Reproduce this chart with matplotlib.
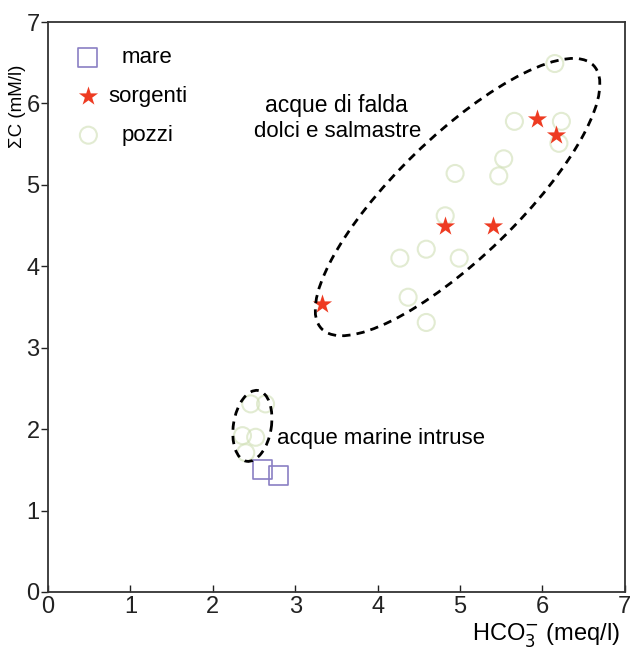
import matplotlib
matplotlib.use("Agg")
import matplotlib.pyplot as plt
from matplotlib.patches import Ellipse

plt.rcParams['font.family'] = ['Liberation Sans', 'DejaVu Sans']

# Seawater samples
mare_x = [2.60, 2.80]
mare_y = [1.50, 1.43]

# Springs
sorgenti_x = [3.32, 4.82, 5.40, 5.94, 6.17]
sorgenti_y = [3.54, 4.50, 4.50, 5.81, 5.61]

# Wells
pozzi_x = [6.15, 5.66, 6.23, 6.20, 5.53, 5.47, 4.94, 4.82, 4.59, 4.27, 4.99, 4.37, 4.59,
           2.46, 2.64, 2.36, 2.52, 2.40]
pozzi_y = [6.49, 5.78, 5.78, 5.51, 5.32, 5.11, 5.14, 4.62, 4.21, 4.10, 4.10, 3.62, 3.31,
           2.31, 2.31, 1.92, 1.90, 1.71]

x_ticks = [0, 1, 2, 3, 4, 5, 6, 7]
y_ticks = [0, 1, 2, 3, 4, 5, 6, 7]

fig = plt.figure(figsize=(6.35, 6.55), dpi=100)
ax = fig.add_axes([0.0756, 0.0962, 0.9084, 0.8702])

sq_col = '#8a7fc4'
star_col = '#ee3b22'
circ_col = '#cfdfb4'

ax.scatter(pozzi_x, pozzi_y, s=150, marker='o', facecolors='none',
           edgecolors=circ_col, linewidths=1.5, alpha=0.6, zorder=2)
ax.scatter(mare_x, mare_y, s=190, marker='s', facecolors='none',
           edgecolors=sq_col, linewidths=1.2, zorder=3)
ax.scatter(sorgenti_x, sorgenti_y, s=210, marker='*', color=star_col,
           linewidths=0, zorder=4)

# Group outlines
ax.add_patch(Ellipse((4.97, 4.85), 4.62, 1.48, angle=44.5, fill=False,
                     ls=(0, (3, 2.2)), lw=2.0, ec='black', zorder=5))
ax.add_patch(Ellipse((2.48, 2.04), 0.88, 0.46, angle=81, fill=False,
                     ls=(0, (3, 2.2)), lw=2.0, ec='black', zorder=5))

ax.text(3.50, 5.98, 'acque di falda', ha='center', va='center', fontsize=16.5)
ax.text(3.52, 5.66, 'dolci e salmastre', ha='center', va='center', fontsize=16)
ax.text(2.78, 1.89, 'acque marine intruse', ha='left', va='center', fontsize=16)

# Key
ax.scatter([0.48], [6.56], s=190, marker='s', facecolors='none',
           edgecolors=sq_col, linewidths=1.2, zorder=3)
ax.scatter([0.49], [6.09], s=210, marker='*', color=star_col, linewidths=0, zorder=3)
ax.scatter([0.49], [5.61], s=150, marker='o', facecolors='none',
           edgecolors=circ_col, linewidths=1.5, alpha=0.6, zorder=3)
ax.text(0.89, 6.56, 'mare', ha='left', va='center', fontsize=16)
ax.text(0.73, 6.09, 'sorgenti', ha='left', va='center', fontsize=16)
ax.text(0.89, 5.61, 'pozzi', ha='left', va='center', fontsize=16)

ax.set_xlim(0, 7)
ax.set_ylim(0, 7)
ax.set_xticks(x_ticks)
ax.set_yticks(y_ticks)
ax.tick_params(axis='x', direction='in', length=5, width=1, labelsize=17, pad=3, colors='#222222')
ax.tick_params(axis='y', direction='out', length=5, width=1, labelsize=17, pad=1, colors='#222222')
for sp in ax.spines.values():
    sp.set_color('#333333')
    sp.set_linewidth(1.3)

fig.text(0.977, 0.031, r'HCO$_3^{-}$ (meq/l)', ha='right', va='center', fontsize=17)
fig.text(0.028, 0.838, r'ΣC (mM/l)', rotation=90, ha='center', va='center', fontsize=13.5)

fig.savefig('out.png', dpi=100, facecolor='white')
